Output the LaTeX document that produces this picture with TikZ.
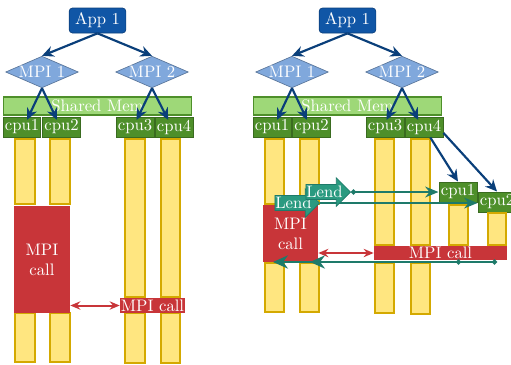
\documentclass[tikz,border=0pt]{standalone}
\usetikzlibrary{arrows.meta,shapes.geometric,shapes.arrows,shadows}

\definecolor{appblue}{HTML}{1056A6}
\definecolor{flowblue}{HTML}{0A3F7A}
\definecolor{mpiblue}{HTML}{80A8DC}
\definecolor{shmgreen}{HTML}{9ED878}
\definecolor{cpugreen}{HTML}{4E8F2A}
\definecolor{taskyellow}{HTML}{FFE680}
\definecolor{taskgold}{HTML}{D4A900}
\definecolor{callred}{HTML}{C83539}
\definecolor{lendteal}{HTML}{2A9A80}
\definecolor{lineteal}{HTML}{1E7A6A}

\tikzset{
	app/.style={rounded corners=2pt, fill=appblue, draw=appblue!75!black, text=white,
		minimum width=34pt, minimum height=15pt, inner sep=1pt},
	mpi/.style={diamond, aspect=2.3, fill=mpiblue, draw=mpiblue!70!black, text=white,
		minimum width=41pt, minimum height=18pt, inner sep=0pt},
	shm/.style={fill=shmgreen, draw=cpugreen, line width=0.8pt, text=white,
		minimum width=113pt, minimum height=10.8pt, inner sep=0pt},
	cpu/.style={fill=cpugreen, draw=cpugreen!75!black, line width=0.6pt, text=white,
		minimum width=22.8pt, minimum height=12pt, inner sep=0.5pt},
	task/.style={fill=taskyellow, draw=taskgold, line width=1pt,
		drop shadow={opacity=0.25, shadow xshift=0.4pt, shadow yshift=-0.4pt}},
	call/.style={fill=callred, text=white, inner sep=0.5pt, align=center},
	lend/.style={single arrow, single arrow head extend=4pt, fill=lendteal,
		draw=lineteal, text=white, inner xsep=0pt, inner ysep=0.8pt},
	flow/.style={draw=flowblue, line width=1.3pt, -{Stealth[length=7pt,width=6.5pt]}},
	callarrow/.style={draw=callred, line width=1.2pt, {Stealth[length=6pt,width=5pt]}-{Stealth[length=6pt,width=5pt]}},
	lendline/.style={draw=lineteal, line width=1.1pt}
}

\begin{document}
\begin{tikzpicture}[x=0.6pt, y=-0.6pt]
	\useasboundingbox (0,0) rectangle (511,364);

	% left: blocking call
	\node[app] (appL) at (97.5,20.5) {App 1};
	\node[mpi] (mpi1L) at (42,72) {MPI 1};
	\node[mpi] (mpi2L) at (152,72) {MPI 2};
	\node[shm] (shmL) at (97.5,106) {Shared Mem};
	\node[cpu] (cpu1L) at (22,127) {cpu1};
	\node[cpu] (cpu2L) at (61.5,127) {cpu2};
	\node[cpu] (cpu3L) at (135,127) {cpu3};
	\node[cpu] (cpu4L) at (174,127) {cpu4};

	\draw[task] (15,139) rectangle (35,204);
	\draw[task] (50,139) rectangle (70,204);
	\draw[task] (15,313) rectangle (35,362);
	\draw[task] (50,313) rectangle (70,362);
	\draw[task] (125,139) rectangle (145,297);
	\draw[task] (161,139) rectangle (180,297);
	\draw[task] (125,313) rectangle (145,363);
	\draw[task] (161,313) rectangle (180,363);

	\node[call, minimum width=33.6pt, minimum height=64.2pt] (bigL) at (42,259.5) {MPI\\call};
	\node[call, minimum width=39pt, minimum height=9pt] (smallL) at (152.5,305.5) {MPI call};

	\draw[flow] (appL.south) -- (mpi1L.north);
	\draw[flow] (appL.south) -- (mpi2L.north);
	\draw[flow] (mpi1L.south) -- ([xshift=3pt,yshift=-2pt]cpu1L.north);
	\draw[flow] (mpi1L.south) -- ([xshift=-2.7pt,yshift=-2pt]cpu2L.north);
	\draw[flow] (mpi2L.south) -- ([xshift=1pt,yshift=-2pt]cpu3L.north);
	\draw[flow] (mpi2L.south) -- ([xshift=-3.5pt,yshift=-2pt]cpu4L.north);
	\draw[callarrow] (smallL.west -| bigL.east) -- (smallL.west);

	% right: lending cpus during the call
	\node[app] (appR) at (347.5,20.5) {App 1};
	\node[mpi] (mpi1R) at (292,72) {MPI 1};
	\node[mpi] (mpi2R) at (402,72) {MPI 2};
	\node[shm] (shmR) at (347.5,106) {Shared Mem};
	\node[cpu] (cpu1R) at (272,127) {cpu1};
	\node[cpu] (cpu2R) at (311.5,127) {cpu2};
	\node[cpu] (cpu3R) at (385,127) {cpu3};
	\node[cpu] (cpu4R) at (424,127) {cpu4};
	\node[cpu] (ncpu1) at (458,192) {cpu1};
	\node[cpu] (ncpu2) at (497,202) {cpu2};

	\draw[task] (265,139) rectangle (284,204);
	\draw[task] (300,139) rectangle (319,204);
	\draw[task] (265,263) rectangle (284,312);
	\draw[task] (300,263) rectangle (319,312);
	\draw[task] (375,139) rectangle (394,245);
	\draw[task] (411,139) rectangle (430,245);
	\draw[task] (375,263) rectangle (394,313);
	\draw[task] (411,263) rectangle (430,314);
	\draw[task] (449,205) rectangle (468,245);
	\draw[task] (488,213) rectangle (506,245);

	\node[call, minimum width=33pt, minimum height=34.2pt] (bigR) at (290.5,233.5) {MPI\\call};
	\node[call, minimum width=79.8pt, minimum height=8.4pt] (longR) at (440.5,253) {MPI call};

	\draw[flow] (appR.south) -- (mpi1R.north);
	\draw[flow] (appR.south) -- (mpi2R.north);
	\draw[flow] (mpi1R.south) -- ([xshift=3pt,yshift=-2pt]cpu1R.north);
	\draw[flow] (mpi1R.south) -- ([xshift=-2.7pt,yshift=-2pt]cpu2R.north);
	\draw[flow] (mpi2R.south) -- ([xshift=1pt,yshift=-2pt]cpu3R.north);
	\draw[flow] (mpi2R.south) -- ([xshift=-3.5pt,yshift=-2pt]cpu4R.north);
	\draw[flow] (cpu4R.-59) -- (ncpu1.north);
	\draw[flow] (cpu4R.-17) -- (ncpu2.north);
	\draw[callarrow] (longR.west -| bigR.east) -- (longR.west);

	\node[lend, anchor=tip] (lendA) at (320,203) {Lend};
	\draw[lendline, -{Stealth[length=8pt,width=6.5pt]}] (lendA.tip) -- (lendA.tip -| ncpu2.west);
	\node[lend, anchor=tip] (lendB) at (351,192) {Lend};
	\draw[lendline, {Circle[length=3pt]}-{Stealth[length=8pt,width=6.5pt]}] (lendB.tip) -- (lendB.tip -| ncpu1.west);

	\coordinate (backA) at (497,262);
	\coordinate (backB) at (461,262);
	\coordinate (homeA) at (273,262);
	\coordinate (homeB) at (310,262);
	\draw[lendline, {Circle[length=3pt]}-{Stealth[length=9pt,width=8pt]}] (backA) -- (homeA);
	\draw[lendline, {Circle[length=3pt]}-{Stealth[length=9pt,width=8pt]}] (backB) -- (homeB);
\end{tikzpicture}
\end{document}
